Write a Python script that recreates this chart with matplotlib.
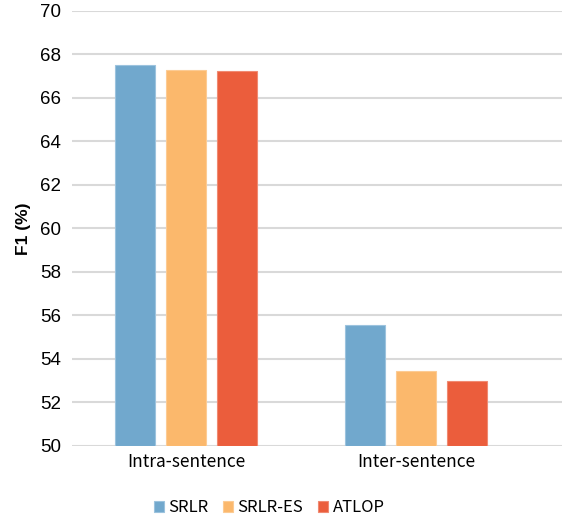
import numpy as np
import matplotlib
matplotlib.use('Agg')
import matplotlib.pyplot as plt

categories = ['Intra-sentence', 'Inter-sentence']
models = ['SRLR', 'SRLR-ES', 'ATLOP']
srlr = [67.52, 55.56]
srlr_es = [67.30, 53.45]
atlop = [67.25, 53.00]
colors = ['#71A8CD', '#FBB86C', '#EB5D3C']
edges = ['#9CC3DE', '#FCCB94', '#F08A72']

fig = plt.figure(figsize=(5.62, 5.21), dpi=100)
ax = fig.add_axes([0.128, 0.144, 0.872, 0.835])

x = np.arange(len(categories))
w = 0.174
off = 0.222
for i, (vals, name) in enumerate(zip([srlr, srlr_es, atlop], models)):
    ax.bar(x + (i - 1) * off, np.array(vals) - 50, bottom=50, width=w,
           color=colors[i], edgecolor=edges[i], linewidth=0.8, label=name, zorder=3)

ax.set_ylim(50, 70)
ax.set_xlim(-0.496, 1.635)
ax.set_yticks(range(50, 71, 2))
ax.yaxis.grid(True, color='#D9D9D9', linewidth=1.5, zorder=0)
ax.set_axisbelow(True)
for s in ax.spines.values():
    s.set_visible(False)
ax.tick_params(axis='both', length=0)
ax.tick_params(axis='y', pad=8)
ax.set_yticklabels([str(v) for v in range(50, 71, 2)], family='Liberation Sans', fontsize=13.5)
ax.set_xticks(x)
ax.set_xticklabels(categories, family=['Noto Sans CJK SC', 'DejaVu Sans'], fontsize=12.5,
                   fontweight='medium')
ax.tick_params(axis='x', pad=5)
ax.set_ylabel('F1 (%)', fontsize=12.5, fontweight='bold', family='Liberation Sans', labelpad=6)

leg = fig.legend(loc='center', bbox_to_anchor=(0.479, 0.025), ncol=3, frameon=False,
                 prop={'family': ['Noto Sans CJK SC', 'DejaVu Sans'], 'size': 12,
                       'weight': 'medium'},
                 handlelength=0.6, handleheight=0.6, handletextpad=0.25, columnspacing=0.9)

fig.savefig('out.png', dpi=100)
